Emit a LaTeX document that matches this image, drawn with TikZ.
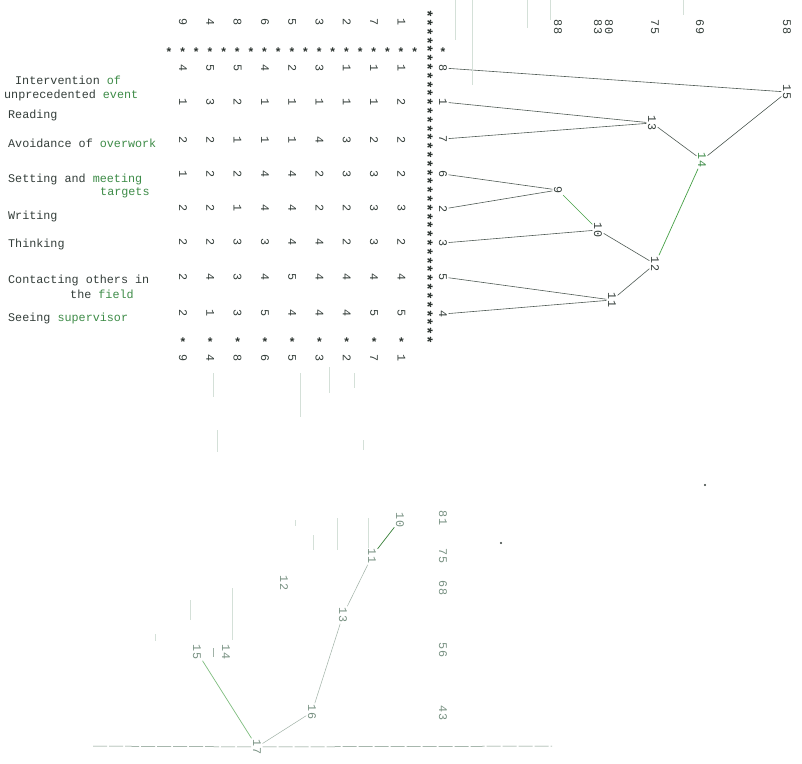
\documentclass[tikz,border=0pt]{standalone}
\usepackage{fontspec}
\setmonofont{Liberation Mono}
\definecolor{ink}{RGB}{52,62,58}
\definecolor{inkg}{RGB}{62,140,72}
\definecolor{linec}{RGB}{80,92,86}
\definecolor{lineg}{RGB}{70,160,70}
\definecolor{pale}{RGB}{120,145,130}
\definecolor{palest}{RGB}{212,224,216}

\begin{document}
\begin{tikzpicture}[x=1pt,y=-1pt,font=\ttfamily\fontsize{11.75}{12}\selectfont,
  lab/.style={anchor=west,inner sep=0pt,text=ink},
  num/.style={rotate=-90,inner sep=1.5pt,text=ink},
  weak/.style={num,text=pale},
  star/.style={inner sep=0pt,yshift=-2.5pt,text=ink!80!black,font=\ttfamily\bfseries\fontsize{12}{12}\selectfont},
  link/.style={draw=linec,line width=0.6pt},
  glink/.style={draw=lineg,line width=0.7pt},
  plink/.style={draw=pale!70,line width=0.5pt},
  faint/.style={draw=palest,line width=0.5pt}]
\path[use as bounding box,fill=white] (0,0) rectangle (802,763);
% construct labels
\node[lab] (t1a) at (15,80) {Intervention {\color{inkg}of}};
\node[lab] (t1b) at (4,95) {unprecedented {\color{inkg}event}};
\node[lab] (t2) at (8,115) {Reading};
\node[lab] (t3) at (8,143) {Avoidance of {\color{inkg}overwork}};
\node[lab] (t4a) at (8,179) {Setting and {\color{inkg}meeting}};
\node[lab] (t4b) at (100,193) {\color{inkg}targets};
\node[lab] (t5) at (8,216) {Writing};
\node[lab] (t6) at (8,244) {Thinking};
\node[lab] (t7a) at (8,280) {Contacting others in};
\node[lab] (t7b) at (70,294) {the {\color{inkg}field}};
\node[lab] (t8) at (8,318) {Seeing {\color{inkg}supervisor}};
% grid of ratings
\foreach \y/\vals in {68/{4,5,5,4,2,3,1,1,1},102/{1,3,2,1,1,1,1,1,2},140/{2,2,1,1,1,4,3,2,2},
  174/{1,2,2,4,4,2,3,3,2},208/{2,2,1,4,4,2,2,3,3},242/{2,2,3,3,4,4,2,3,2},
  277/{2,4,3,4,5,4,4,4,4},313/{2,1,3,5,4,4,4,5,5}}
  \foreach \v [count=\c from 0] in \vals
    \node[num] (g\y-\c) at ({183+27.3*\c},\y) {\v};
\foreach \v [count=\c from 0] in {9,4,8,6,5,3,2,7,1}{
  \node[num] (h\c) at ({183+27.3*\c},22) {\v};
  \node[num] (f\c) at ({183+27.3*\c},358) {\v};
  \node[star] (bs\c) at ({183+27.3*\c},340) {*};}
\foreach \k in {0,...,18}
  \node[star] (hs\k) at ({169+13.65*\k},50) {*};
\node[star] (hsr) at (443,50) {*};
\node[rotate=-90,inner sep=0pt,text=ink!80!black,font=\ttfamily\bfseries\fontsize{14.67}{14.67}\selectfont]
  (vcol) at (427.5,177) {**************************************};
% elements (leaves)
\node[num] (l8) at (443,68) {8};
\node[num] (l1) at (443,102) {1};
\node[num] (l7) at (443,139) {7};
\node[num] (l6) at (443,174) {6};
\node[num] (l2) at (443,209) {2};
\node[num] (l3) at (443,243) {3};
\node[num] (l5) at (443,277) {5};
\node[num] (l4) at (443,314) {4};
% scale
\node[num] (sc88) at (558,27) {88};
\node[num] (sc83) at (598,27) {83};
\node[num] (sc80) at (609,27) {80};
\node[num] (sc75) at (655,27) {75};
\node[num] (sc69) at (700,27) {69};
\node[num] (sc58) at (787,27) {58};
% clusters
\node[num] (n9) at (558,190) {9};
\node[num] (n10) at (598,230) {10};
\node[num] (n11) at (612,300) {11};
\node[num] (n12) at (655,264) {12};
\node[num] (n13) at (652,123) {13};
\node[num,text=inkg] (n14) at (702,160) {14};
\node[num] (n15) at (787,92) {15};
\draw[link] (l8) -- (n15);
\draw[link] (l1) -- (n13);
\draw[link] (l7) -- (n13);
\draw[link] (n13) -- (n14);
\draw[link] (n14) -- (n15);
\draw[link] (l6) -- (n9);
\draw[link] (l2) -- (n9);
\draw[glink] (n9) -- (n10);
\draw[link] (l3) -- (n10);
\draw[link] (n10) -- (n12);
\draw[link] (l5) -- (n11);
\draw[link] (l4) -- (n11);
\draw[link] (n11) -- (n12);
\draw[glink] (n12) -- (n14);
% second tree
\node[weak] (s81) at (443,518) {81};
\node[weak] (s75) at (443,556) {75};
\node[weak] (s68) at (443,588) {68};
\node[weak] (s56) at (443,650) {56};
\node[weak] (s43) at (443,713) {43};
\node[weak] (b10) at (400,520) {10};
\node[weak] (b11) at (372,556) {11};
\node[weak] (b12) at (284,583) {12};
\node[weak] (b13) at (343,615) {13};
\node[weak] (b14) at (226,652) {14};
\node[weak] (b15) at (197,652) {15};
\node[weak] (b16) at (312,712) {16};
\node[weak] (b17) at (257,747) {17};
\coordinate (axl) at (93,746);
\coordinate (axr) at (552,746);
\draw[glink,draw=lineg!80!black] (b10) -- (b11);
\draw[plink] (b11) -- (b13);
\draw[plink] (b13) -- (b16);
\draw[plink] (b16) -- (b17);
\draw[glink,draw=lineg!70] (b15) -- (b17);
\draw[plink,draw=pale,dash pattern=on 14pt off 2pt] (axl) -- (b17) -- (axr);
\draw[plink] (213,648) -- (213,657);
% scan marks
\foreach \x/\ya/\yb in {455/0/40,472/0/85,527/0/28,550/0/20,683/0/15,329/367/393,354/373/388,
  300/373/417,213/373/397,217/430/452,363/440/450,337/518/550,368/518/548,295/520/526,
  313/535/550,232/588/640,190/600/620,155/634/641}
  \draw[faint] (\x,\ya) -- (\x,\yb);
\fill[ink] (705,485) circle (1.2);
\fill[ink] (501,543) circle (1.2);
\end{tikzpicture}
\end{document}
